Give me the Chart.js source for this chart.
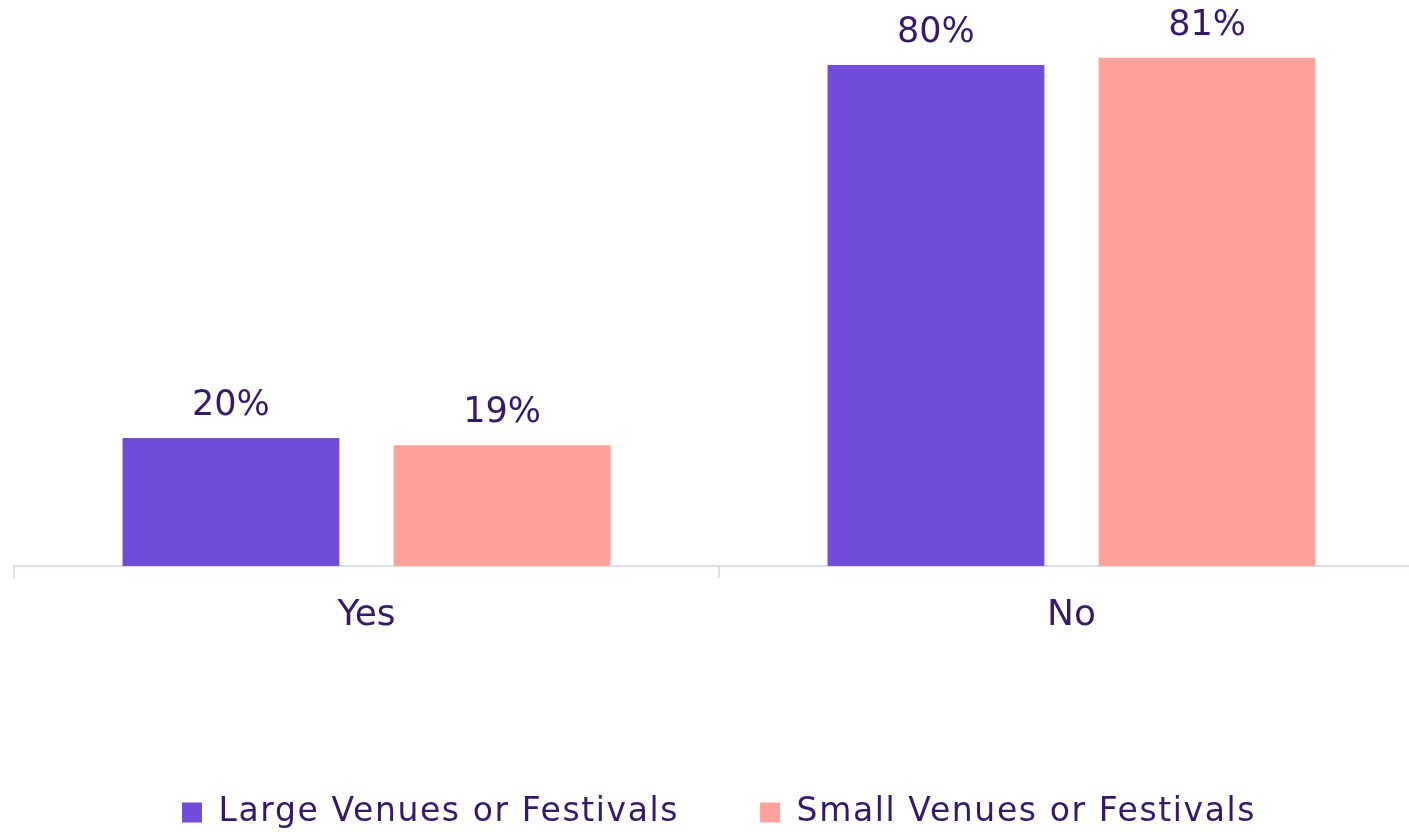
<!DOCTYPE html>
<html><head><meta charset="utf-8">
<script src="https://cdn.jsdelivr.net/npm/chart.js@4/dist/chart.umd.min.js"></script>
<style>html,body{margin:0;padding:0;overflow:hidden;background:#fff}#wrap{width:1424px;height:832px;position:relative}</style>
</head><body><div id="wrap"><canvas id="c"></canvas></div>
<script>
const categories = ["Yes", "No"];
const largeVenues = [20.35, 79.65];
const smallVenues = [19.2, 80.8];
const largeLabels = ["20%", "80%"];
const smallLabels = ["19%", "81%"];
const seriesNames = ["Large Venues or Festivals", "Small Venues or Festivals"];

const textColor = "#37196B";
const fontFamily = "'DejaVu Sans', sans-serif";
const legendSpacing = '1.6px';

const valueLabels = {
  id: 'valueLabels',
  afterDatasetsDraw(chart) {
    const ctx = chart.ctx;
    ctx.save();
    ctx.fillStyle = textColor;
    ctx.font = "35px " + fontFamily;
    ctx.textAlign = 'center';
    ctx.textBaseline = 'middle';
    chart.data.datasets.forEach((ds, i) => {
      const meta = chart.getDatasetMeta(i);
      meta.data.forEach((el, j) => {
        ctx.fillText(ds.labelsText[j], el.x, el.y - 32);
      });
    });
    ctx.restore();
  }
};

const legendTweak = {
  id: 'legendTweak',
  afterInit(chart) {
    const lg = chart.legend;
    if (!lg || lg._tweaked) return;
    lg._tweaked = true;
    const origFit = lg.fit.bind(lg);
    const origDraw = lg.draw.bind(lg);
    lg.fit = function () {
      const ctx = chart.ctx;
      ctx.save(); ctx.letterSpacing = legendSpacing;
      origFit();
      ctx.restore();
      this.height = 117;
    };
    lg.draw = function (...a) {
      const ctx = chart.ctx;
      ctx.save(); ctx.letterSpacing = legendSpacing;
      origDraw(...a);
      ctx.restore();
    };
  }
};

new Chart(document.getElementById('c'), {
  type: 'bar',
  data: {
    labels: categories,
    datasets: [
      { label: seriesNames[0], data: largeVenues, labelsText: largeLabels, backgroundColor: '#724BD9' },
      { label: seriesNames[1], data: smallVenues, labelsText: smallLabels, backgroundColor: '#FFA29B' }
    ]
  },
  options: {
    responsive: true,
    maintainAspectRatio: false,
    animation: false,
    categoryPercentage: 0.769,
    barPercentage: 0.8,
    layout: { padding: { left: 14, right: 0, top: 0, bottom: 0 } },
    scales: {
      x: {
        border: { display: true, color: '#DADDEA', width: 2 },
        grid: { display: true, drawOnChartArea: false, drawTicks: true, tickLength: 12, color: '#DADDEA', lineWidth: 2, offset: true },
        ticks: { color: textColor, font: { family: fontFamily, size: 36 }, padding: 16 },
        afterFit(scale) { scale.height = 149; }
      },
      y: { display: false, min: 0, max: 90 }
    },
    plugins: {
      legend: {
        position: 'bottom',
        labels: { color: textColor, font: { family: fontFamily, size: 33 }, boxWidth: 20, boxHeight: 20, padding: 81 }
      },
      tooltip: { enabled: false }
    }
  },
  plugins: [legendTweak, valueLabels]
});
</script></body></html>
